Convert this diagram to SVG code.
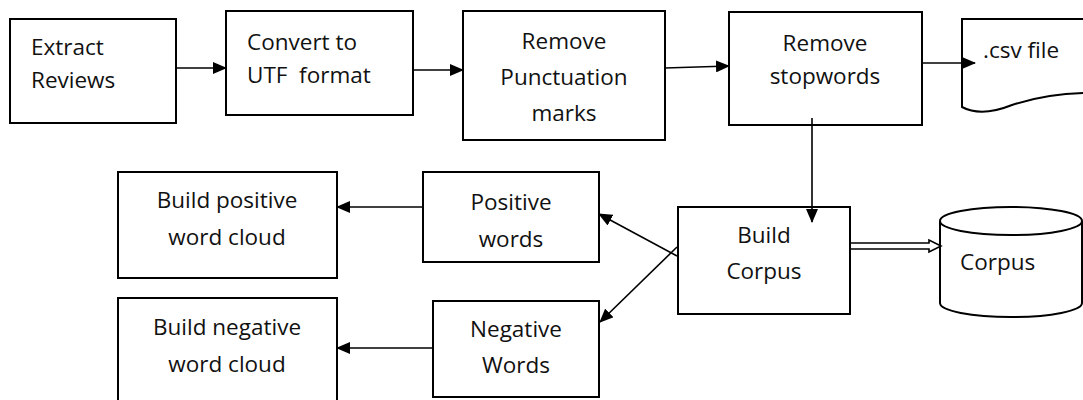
<svg xmlns="http://www.w3.org/2000/svg" width="1083" height="400" viewBox="0 0 1083 400">
<style>
  .box { fill: #fff; stroke: #000; stroke-width: 2; }
  .ln { fill: none; stroke: #000; stroke-width: 1.6; }
  .t { font-family: "Open Sans", "Liberation Sans", sans-serif; font-size: 22.5px; fill: #111; }
  .c { text-anchor: middle; }
</style>
<defs>
  <marker id="arr" viewBox="0 0 14 12" refX="13" refY="6" markerWidth="14" markerHeight="12" markerUnits="userSpaceOnUse" orient="auto">
    <path d="M0,0 L14,6 L0,12 Z" fill="#000"/>
  </marker>
</defs>
<rect width="1083" height="400" fill="#fff"/>

<g id="n1">
  <rect class="box" x="10" y="19" width="166" height="104"/>
  <text class="t" x="31" y="55">Extract</text>
  <text class="t" x="31" y="88">Reviews</text>
</g>
<g id="n2">
  <rect class="box" x="226" y="11" width="187" height="104"/>
  <text class="t" x="247" y="50">Convert to</text>
  <text class="t" x="247" y="83" xml:space="preserve">UTF  format</text>
</g>
<g id="n3">
  <rect class="box" x="463" y="11" width="202" height="129"/>
  <text class="t c" x="564" y="49">Remove</text>
  <text class="t c" x="564" y="85">Punctuation</text>
  <text class="t c" x="564" y="121">marks</text>
</g>
<g id="n4">
  <rect class="box" x="729" y="12" width="193" height="113"/>
  <text class="t c" x="825" y="51">Remove</text>
  <text class="t c" x="825" y="84">stopwords</text>
</g>
<g id="n5">
  <path class="box" d="M1090,19 H962 V107 C975,114 992,113 1012,105 C1040,96 1065,93 1090,93"/>
  <text class="t" x="983" y="58">.csv file</text>
</g>
<g id="n6">
  <rect class="box" x="678" y="207" width="172" height="107"/>
  <text class="t c" x="764" y="243">Build</text>
  <text class="t c" x="764" y="279">Corpus</text>
</g>
<g id="n7">
  <path class="box" d="M940,221 V303 A71,14 0 0 0 1082,303 V221"/>
  <ellipse class="box" cx="1011" cy="221" rx="71" ry="14"/>
  <text class="t" x="960" y="270">Corpus</text>
</g>
<g id="n8">
  <rect class="box" x="423" y="172" width="176" height="90"/>
  <text class="t c" x="511" y="210">Positive</text>
  <text class="t c" x="511" y="247">words</text>
</g>
<g id="n9">
  <rect class="box" x="433" y="301" width="166" height="96"/>
  <text class="t c" x="516" y="337">Negative</text>
  <text class="t c" x="516" y="373">Words</text>
</g>
<g id="n10">
  <rect class="box" x="118" y="172" width="219" height="106"/>
  <text class="t c" x="227" y="208">Build positive</text>
  <text class="t c" x="227" y="245">word cloud</text>
</g>
<g id="n11">
  <rect class="box" x="118" y="298" width="219" height="110"/>
  <text class="t c" x="227" y="335">Build negative</text>
  <text class="t c" x="227" y="372">word cloud</text>
</g>

<g id="connectors">
  <line class="ln" x1="176" y1="68" x2="226" y2="68" marker-end="url(#arr)"/>
  <line class="ln" x1="413" y1="70" x2="463" y2="70" marker-end="url(#arr)"/>
  <line class="ln" x1="665" y1="68" x2="729" y2="66" marker-end="url(#arr)"/>
  <line class="ln" x1="922" y1="63" x2="975" y2="63" marker-end="url(#arr)"/>
  <line class="ln" x1="812" y1="118" x2="812" y2="222" marker-end="url(#arr)"/>
  <line class="ln" x1="423" y1="207" x2="337" y2="207" marker-end="url(#arr)"/>
  <line class="ln" x1="433" y1="348" x2="337" y2="348" marker-end="url(#arr)"/>
  <line class="ln" x1="677" y1="256" x2="599" y2="214" marker-end="url(#arr)"/>
  <line class="ln" x1="677" y1="247" x2="600" y2="322" marker-end="url(#arr)"/>
  <path class="ln" d="M851,243 H929 V240 L941,246 L929,252 V249 H851" fill="#fff"/>
</g>
</svg>
